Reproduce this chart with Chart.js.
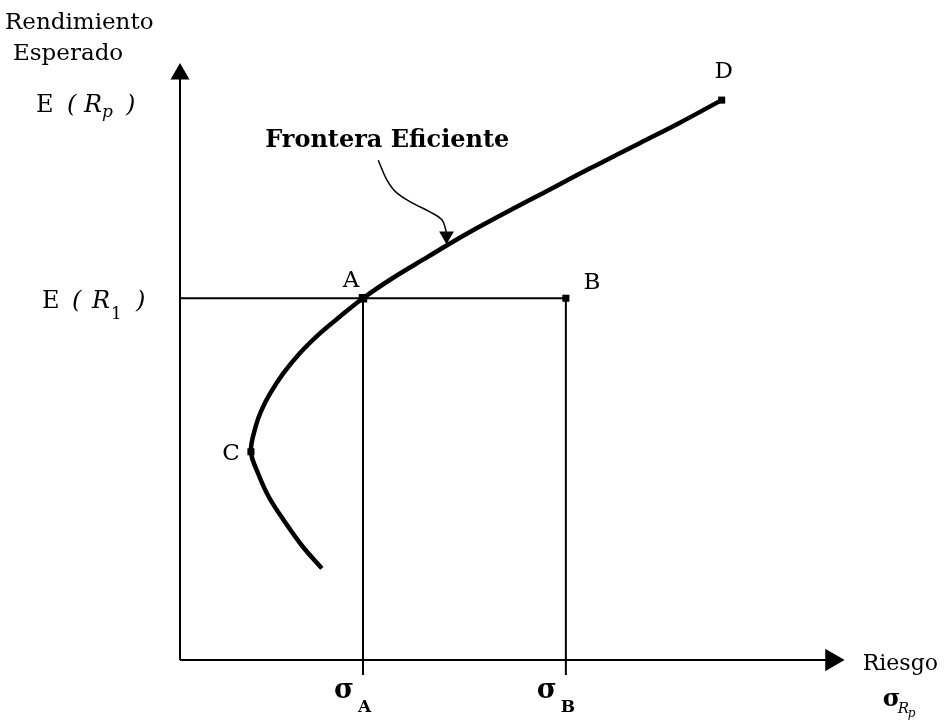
<!DOCTYPE html>
<html>
<head>
<meta charset="utf-8">
<title>Frontera Eficiente</title>
<script src="https://cdn.jsdelivr.net/npm/chart.js@4"></script>
<style>
  body { margin: 0; background: #fff; }
  #grafico { display: block; }
</style>
</head>
<body>
<canvas id="grafico" width="946" height="722"></canvas>
<script>
// curva de la frontera: riesgo (x) y rendimiento esperado (y)
const riesgo =      [2.14, 1.84, 1.57, 1.34, 1.18, 1.07, 1.14, 1.23, 1.36, 1.56, 1.81, 2.11, 2.41, 2.76, 3.21, 3.73, 4.04, 4.48, 4.98, 5.48, 5.99, 6.34, 6.94, 7.54, 8.17];
const rendimiento = [1.54, 1.92, 2.34, 2.74, 3.13, 3.50, 3.92, 4.20, 4.48, 4.82, 5.16, 5.49, 5.77, 6.08, 6.42, 6.77, 6.98, 7.26, 7.56, 7.85, 8.15, 8.35, 8.69, 9.03, 9.41];

// carteras marcadas
const carteras = ['A', 'B', 'C', 'D'];
const carterasRiesgo = [2.76, 5.82, 1.07, 8.17];
const carterasRend = [6.08, 6.08, 3.50, 9.41];

// marcas de los ejes
const sigmaA = 2.76;
const sigmaB = 5.82;
const eR1 = 6.08;
const ticksX = [sigmaA, sigmaB];
const ticksXSub = ['A', 'B'];

// flecha que senala la frontera
const flechaX = [2.99, 3.12, 3.27, 3.51, 3.77, 3.95, 4.01, 4.02];
const flechaY = [8.40, 8.07, 7.85, 7.68, 7.53, 7.40, 7.22, 7.13];

// largo de los ejes
const finEjeX = 9.83;
const finEjeY = 9.85;

const SERIF = '"DejaVu Serif", serif';

function puntos(xs, ys) {
  return xs.map((x, i) => ({ x: x, y: ys[i] }));
}

function linea(data, ancho, extra) {
  return Object.assign({
    data: data,
    showLine: true,
    borderColor: '#000',
    backgroundColor: '#000',
    borderWidth: ancho,
    pointRadius: 0,
    tension: 0,
    clip: false
  }, extra || {});
}

// dibuja un texto por partes (normal, cursiva, subindice)
function partes(ctx, x, y, lista) {
  lista.forEach(p => {
    ctx.font = p.font;
    ctx.fillText(p.t, x + p.dx, y + (p.dy || 0));
  });
}

const offsetsLetras = {
  A: [-12, -11],
  B: [26, -9],
  C: [-20, 8],
  D: [2, -22]
};

const textos = {
  id: 'textos',
  afterDraw(chart) {
    const ctx = chart.ctx;
    const xs = chart.scales.x, ys = chart.scales.y;
    const px = v => xs.getPixelForValue(v);
    const py = v => ys.getPixelForValue(v);
    const x0 = px(0), y0 = py(0);
    ctx.save();
    ctx.fillStyle = '#000';
    ctx.textBaseline = 'alphabetic';

    // titulo eje y
    ctx.textAlign = 'left';
    ctx.font = '23px ' + SERIF;
    ctx.fillText('Rendimiento', x0 - 175, py(finEjeY) - 45);
    ctx.fillText('Esperado', x0 - 167, py(finEjeY) - 14);
    const n = '24px ' + SERIF, it = 'italic 24px ' + SERIF, sub = 'italic 17px ' + SERIF;
    partes(ctx, x0 - 144, py(finEjeY) + 38, [
      { t: 'E', font: n, dx: 0 },
      { t: '(', font: it, dx: 31 },
      { t: 'R', font: it, dx: 48 },
      { t: 'p', font: sub, dx: 66, dy: 5 },
      { t: ')', font: it, dx: 90 }
    ]);

    // marca E(R1)
    partes(ctx, x0 - 138, py(eR1) + 10, [
      { t: 'E', font: n, dx: 0 },
      { t: '(', font: it, dx: 30 },
      { t: 'R', font: it, dx: 50 },
      { t: '1', font: '17px ' + SERIF, dx: 69, dy: 11 },
      { t: ')', font: it, dx: 94 }
    ]);

    // titulo eje x
    ctx.font = '22px ' + SERIF;
    ctx.fillText('Riesgo', px(finEjeX) + 31, y0 + 10);
    partes(ctx, px(finEjeX) + 51, y0 + 46, [
      { t: 'σ', font: 'bold 24px ' + SERIF, dx: 0 },
      { t: 'R', font: 'italic 15px ' + SERIF, dx: 15, dy: 7 },
      { t: 'p', font: 'italic 12px ' + SERIF, dx: 25, dy: 11 }
    ]);

    // marcas sigma
    ticksX.forEach((v, i) => {
      partes(ctx, px(v) - 29, y0 + 38, [
        { t: 'σ', font: 'bold 27px ' + SERIF, dx: 0 },
        { t: ticksXSub[i], font: 'bold 17px ' + SERIF, dx: 24, dy: 14 }
      ]);
    });

    // letras de las carteras
    ctx.textAlign = 'center';
    ctx.font = '23px ' + SERIF;
    carteras.forEach((c, i) => {
      const o = offsetsLetras[c];
      ctx.fillText(c, px(carterasRiesgo[i]) + o[0], py(carterasRend[i]) + o[1]);
    });

    // nombre de la curva
    ctx.font = 'bold 24px ' + SERIF;
    ctx.fillText('Frontera Eficiente', px(flechaX[0]) + 9, py(flechaY[0]) - 13);
    ctx.restore();
  }
};

new Chart(document.getElementById('grafico').getContext('2d'), {
  type: 'scatter',
  data: {
    datasets: [
      linea(puntos(carterasRiesgo, carterasRend), 0, {
        showLine: false,
        pointStyle: 'rect',
        pointRadius: [6, 5, 5, 5]
      }),
      linea(puntos(riesgo, rendimiento), 4.5, { tension: 0.35 }),
      linea(puntos(flechaX, flechaY), 1.5, {
        tension: 0.4,
        pointStyle: 'triangle',
        pointRotation: 180,
        pointRadius: flechaX.map((v, i) => i === flechaX.length - 1 ? 7 : 0)
      }),
      linea([{ x: 0, y: eR1 }, { x: sigmaB, y: eR1 }], 2),
      linea([{ x: sigmaA, y: eR1 }, { x: sigmaA, y: -0.25 }], 2),
      linea([{ x: sigmaB, y: eR1 }, { x: sigmaB, y: -0.25 }], 2),
      linea([{ x: 0, y: 0 }, { x: 0, y: finEjeY }], 2, {
        pointStyle: 'triangle',
        pointRadius: [0, 9]
      }),
      linea([{ x: 0, y: 0 }, { x: finEjeX, y: 0 }], 2, {
        pointStyle: 'triangle',
        pointRotation: 90,
        pointRadius: [0, 11]
      })
    ]
  },
  options: {
    responsive: false,
    animation: false,
    devicePixelRatio: 1,
    layout: { padding: { left: 180, right: 103, top: 65, bottom: 62 } },
    scales: {
      x: { type: 'linear', min: 0, max: 10, display: false },
      y: { type: 'linear', min: 0, max: 10, display: false }
    },
    plugins: {
      legend: { display: false },
      tooltip: { enabled: false }
    }
  },
  plugins: [textos]
});
</script>
</body>
</html>
